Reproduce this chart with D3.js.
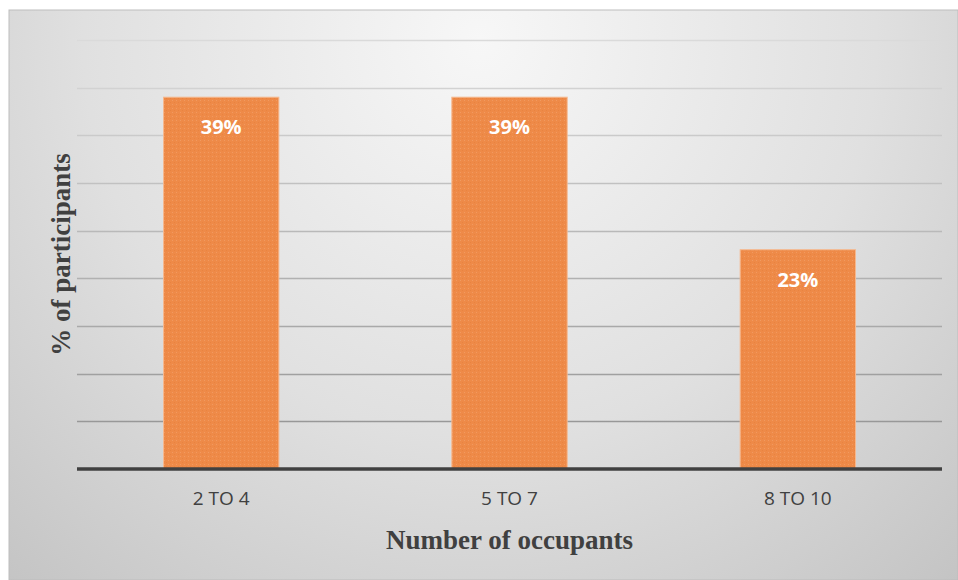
<!DOCTYPE html>
<html>
<head>
<meta charset="utf-8">
<script src="https://cdn.jsdelivr.net/npm/d3@7"></script>
<style>
  html, body { margin: 0; padding: 0; background: #ffffff; }
  svg { display: block; }
</style>
</head>
<body>
<svg id="chart" width="958" height="580"></svg>
<script>
// Share of participants by household size
const categories = ["2 TO 4", "5 TO 7", "8 TO 10"];
const percentages = [39, 39, 23];
const valueLabels = ["39%", "39%", "23%"];
const gridTicks = [0, 5, 10, 15, 20, 25, 30, 35, 40, 45];

const svg = d3.select("#chart");
const W = 958, H = 580;
const frame = { x: 9, y: 10, w: W - 9, h: H - 10 };
const plot = { left: 77, right: 942, top: 40, bottom: 469 };

// Backdrop: soft radial grey, lighter towards the top middle
const defs = svg.append("defs");
const bg = defs.append("radialGradient")
  .attr("id", "bgGrad")
  .attr("gradientUnits", "userSpaceOnUse")
  .attr("cx", 480).attr("cy", 40).attr("r", 720);
bg.append("stop").attr("offset", "0%").attr("stop-color", "#f7f7f7");
bg.append("stop").attr("offset", "55%").attr("stop-color", "#e0e0e0");
bg.append("stop").attr("offset", "100%").attr("stop-color", "#c4c4c4");

// Fine woven texture on the bars
const pat = defs.append("pattern")
  .attr("id", "barTex")
  .attr("patternUnits", "userSpaceOnUse")
  .attr("width", 4).attr("height", 4);
pat.append("rect").attr("width", 4).attr("height", 4).attr("fill", "#ee8a48");
pat.append("rect").attr("x", 0).attr("y", 0).attr("width", 1).attr("height", 1).attr("fill", "#f19a60");
pat.append("rect").attr("x", 2).attr("y", 2).attr("width", 1).attr("height", 1).attr("fill", "#e9833f");

svg.append("rect")
  .attr("x", frame.x).attr("y", frame.y)
  .attr("width", frame.w).attr("height", frame.h)
  .attr("fill", "url(#bgGrad)")
  .attr("stroke", "#bdbdbd").attr("stroke-width", 1);

const x = d3.scaleBand()
  .domain(categories)
  .range([plot.left, plot.right])
  .paddingInner(0.6)
  .paddingOuter(0.3);

const y = d3.scaleLinear()
  .domain([0, 45])
  .range([plot.bottom, plot.top]);

// Horizontal gridlines, fading out towards the top
const gridShade = d3.scaleLinear().domain([5, 45]).range(["#989898", "#dadada"]);
svg.append("g")
  .selectAll("line")
  .data(gridTicks.filter(t => t > 0))
  .join("line")
  .attr("x1", plot.left).attr("x2", plot.right)
  .attr("y1", d => Math.round(y(d)) + 0.5)
  .attr("y2", d => Math.round(y(d)) + 0.5)
  .attr("stroke", d => gridShade(d))
  .attr("stroke-width", 1.6);

// Bars
svg.append("g")
  .selectAll("rect")
  .data(categories)
  .join("rect")
  .attr("x", d => x(d))
  .attr("y", (d, i) => y(percentages[i]))
  .attr("width", x.bandwidth())
  .attr("height", (d, i) => y(0) - y(percentages[i]))
  .attr("fill", "url(#barTex)")
  .attr("stroke", "#f6b88e")
  .attr("stroke-width", 1);

// Value labels inside the bars
svg.append("g")
  .selectAll("text")
  .data(categories)
  .join("text")
  .attr("x", d => x(d) + x.bandwidth() / 2)
  .attr("y", (d, i) => y(percentages[i]) + 37)
  .attr("text-anchor", "middle")
  .attr("fill", "#ffffff")
  .attr("font-family", "'Open Sans', 'Noto Sans', sans-serif")
  .attr("font-weight", "bold")
  .attr("font-size", 20)
  .text((d, i) => valueLabels[i]);

// Category axis
const xAxis = svg.append("g")
  .attr("transform", `translate(0,${plot.bottom})`)
  .call(d3.axisBottom(x).tickSize(0).tickPadding(23));
xAxis.select(".domain")
  .attr("d", `M${plot.left},0H${plot.right}`)
  .attr("stroke", "#404040")
  .attr("stroke-width", 3.5);
xAxis.selectAll(".tick text")
  .attr("fill", "#404040")
  .attr("font-family", "'Open Sans', 'Noto Sans', sans-serif")
  .attr("font-size", 19);

// Axis titles
svg.append("text")
  .attr("x", (plot.left + plot.right) / 2)
  .attr("y", 549)
  .attr("text-anchor", "middle")
  .attr("fill", "#404040")
  .attr("font-family", "'Liberation Serif', 'Times New Roman', serif")
  .attr("font-weight", "bold")
  .attr("font-size", 27)
  .text("Number of occupants");

svg.append("text")
  .attr("transform", `translate(70,${(plot.top + plot.bottom) / 2}) rotate(-90)`)
  .attr("text-anchor", "middle")
  .attr("fill", "#404040")
  .attr("font-family", "'Liberation Serif', 'Times New Roman', serif")
  .attr("font-weight", "bold")
  .attr("font-size", 27)
  .text("% of participants");
</script>
</body>
</html>
